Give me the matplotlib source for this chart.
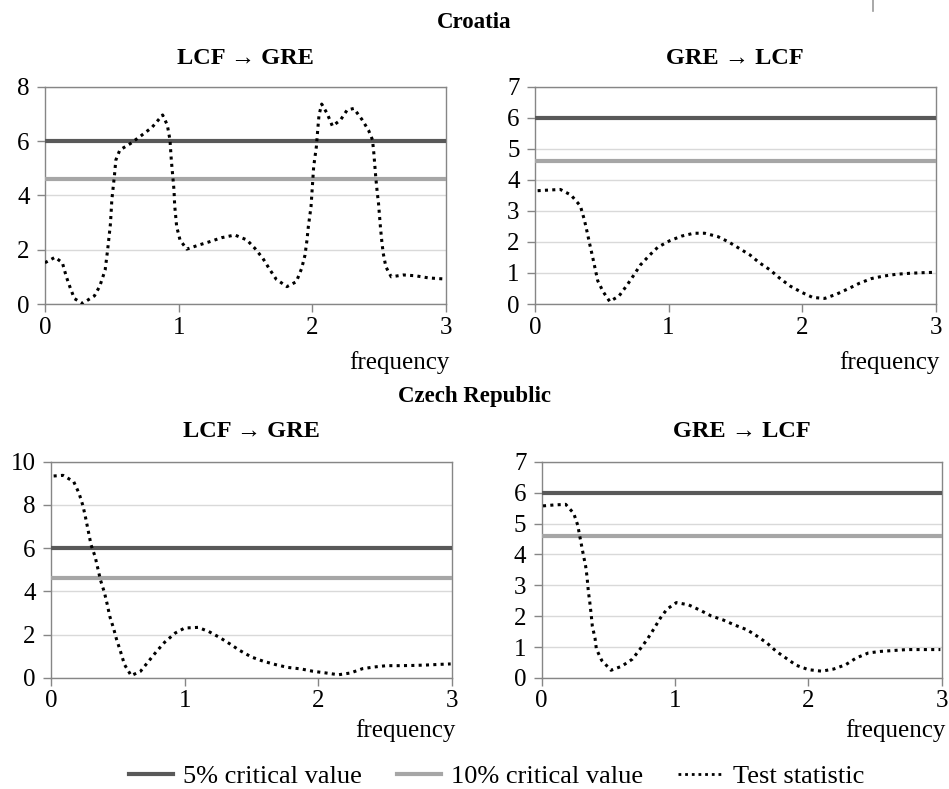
import matplotlib
matplotlib.use("Agg")
import matplotlib.pyplot as plt
from matplotlib.lines import Line2D

plt.rcParams['font.family'] = ['Liberation Serif', 'DejaVu Serif']

# Critical values of the test (chi-square, 2 df)
crit_5 = 5.99
crit_10 = 4.61

# Croatia, LCF -> GRE
hr_lcf_gre_f = [0.0, 0.075, 0.13, 0.16, 0.19, 0.22, 0.28, 0.37, 0.41, 0.45, 0.47, 0.49, 0.5, 0.52, 0.53,
                0.56, 0.64, 0.72, 0.8, 0.88, 0.915, 0.935, 0.945, 0.955, 0.965, 0.97, 0.985, 1.01, 1.06,
                1.15, 1.23, 1.32, 1.42, 1.51, 1.57, 1.63, 1.68, 1.73, 1.81, 1.88, 1.92, 1.945, 1.96, 1.97,
                1.99, 2.0, 2.01, 2.03, 2.04, 2.05, 2.07, 2.11, 2.15, 2.21, 2.26, 2.31, 2.37, 2.42, 2.45,
                2.46, 2.475, 2.485, 2.495, 2.51, 2.52, 2.53, 2.55, 2.59, 2.68, 2.77, 2.87, 2.99]
hr_lcf_gre_v = [1.52, 1.72, 1.52, 1.0, 0.58, 0.2, 0.02, 0.3, 0.66, 1.25, 2.05, 2.97, 3.83, 4.75, 5.3,
                5.67, 5.91, 6.2, 6.5, 6.96, 6.59, 6.04, 5.3, 4.75, 4.2, 3.64, 2.85, 2.36, 2.02,
                2.17, 2.29, 2.44, 2.54, 2.36, 2.05, 1.68, 1.28, 0.91, 0.64, 0.82, 1.31, 1.8, 2.36, 2.85,
                3.58, 4.32, 5.06, 5.79, 6.4, 6.96, 7.36, 7.02, 6.55, 6.77, 7.14, 7.2, 6.8, 6.4, 6.04,
                5.55, 4.63, 4.13, 3.7, 2.79, 2.29, 1.87, 1.37, 1.0, 1.07, 1.04, 0.96, 0.92]

# Croatia, GRE -> LCF
hr_gre_lcf_f = [0.02, 0.1, 0.19, 0.27, 0.34, 0.37, 0.39, 0.41, 0.43, 0.45, 0.47, 0.51, 0.56, 0.63, 0.69,
                0.74, 0.79, 0.86, 0.92, 1.01, 1.1, 1.19, 1.27, 1.37, 1.45, 1.53, 1.61, 1.68, 1.76, 1.83,
                1.91, 2.0, 2.08, 2.17, 2.26, 2.35, 2.43, 2.52, 2.61, 2.71, 2.81, 2.91, 2.99]
hr_gre_lcf_v = [3.65, 3.67, 3.69, 3.51, 3.16, 2.71, 2.33, 1.93, 1.55, 1.15, 0.75, 0.4, 0.08, 0.26, 0.61,
                0.93, 1.26, 1.58, 1.83, 2.04, 2.19, 2.28, 2.28, 2.17, 2.0, 1.79, 1.58, 1.33, 1.1, 0.84,
                0.58, 0.37, 0.21, 0.18, 0.32, 0.5, 0.67, 0.82, 0.9, 0.96, 0.99, 1.01, 1.02]

# Czech Republic, LCF -> GRE
cz_lcf_gre_f = [0.02, 0.09, 0.17, 0.21, 0.24, 0.26, 0.28, 0.3, 0.33, 0.35, 0.37, 0.4, 0.42, 0.44, 0.47,
                0.49, 0.52, 0.55, 0.6, 0.67, 0.73, 0.79, 0.85, 0.93, 1.0, 1.1, 1.18, 1.26, 1.34, 1.41,
                1.5, 1.59, 1.68, 1.77, 1.87, 1.96, 2.06, 2.15, 2.24, 2.33, 2.42, 2.51, 2.61, 2.71, 2.81,
                2.91, 2.99]
cz_lcf_gre_v = [9.34, 9.37, 9.08, 8.54, 7.95, 7.38, 6.77, 6.15, 5.62, 5.08, 4.54, 3.95, 3.43, 2.85, 2.26,
                1.8, 1.23, 0.62, 0.11, 0.31, 0.77, 1.23, 1.65, 2.08, 2.31, 2.34, 2.15, 1.88, 1.57, 1.28,
                0.97, 0.77, 0.62, 0.49, 0.42, 0.31, 0.23, 0.15, 0.23, 0.43, 0.51, 0.57, 0.57, 0.58, 0.6,
                0.63, 0.65]

# Czech Republic, GRE -> LCF
cz_gre_lcf_f = [0.01, 0.09, 0.18, 0.24, 0.27, 0.29, 0.31, 0.33, 0.34, 0.35, 0.36, 0.37, 0.38, 0.4, 0.41,
                0.45, 0.52, 0.6, 0.68, 0.73, 0.79, 0.84, 0.89, 0.94, 1.01, 1.1, 1.19, 1.27, 1.36, 1.45,
                1.54, 1.61, 1.69, 1.76, 1.83, 1.91, 2.0, 2.1, 2.19, 2.28, 2.36, 2.45, 2.54, 2.64, 2.74,
                2.84, 2.93, 2.99]
cz_gre_lcf_v = [5.57, 5.6, 5.62, 5.33, 4.95, 4.49, 4.04, 3.61, 3.28, 2.8, 2.48, 2.1, 1.67, 1.29, 0.94,
                0.57, 0.25, 0.38, 0.61, 0.89, 1.24, 1.58, 1.94, 2.23, 2.44, 2.37, 2.19, 2.01, 1.88, 1.71,
                1.56, 1.37, 1.13, 0.86, 0.65, 0.41, 0.27, 0.22, 0.29, 0.43, 0.65, 0.81, 0.86, 0.89, 0.92,
                0.92, 0.92, 0.92]

x_ticks = [0, 1, 2, 3]
dark = '#595959'
light = '#a6a6a6'
spine_c = '#868686'
grid_c = '#d9d9d9'
dot_style = (0, (1.0, 1.4))

fig = plt.figure(figsize=(9.49, 7.89), dpi=100)

panels = [
    # axes rect, y max, y step, panel title, title offset, label offset, frequencies, statistic
    ([0.0474, 0.6147, 0.4226, 0.2754], 8, 2, 'LCF → GRE', 0.128, 0.267, hr_lcf_gre_f, hr_lcf_gre_v),
    ([0.5637, 0.6147, 0.4222, 0.2754], 7, 1, 'GRE → LCF', 0.128, 0.267, hr_gre_lcf_f, hr_gre_lcf_v),
    ([0.0537, 0.1407, 0.4226, 0.2741], 10, 2, 'LCF → GRE', 0.142, 0.245, cz_lcf_gre_f, cz_lcf_gre_v),
    ([0.5708, 0.1407, 0.4215, 0.2741], 7, 1, 'GRE → LCF', 0.142, 0.245, cz_gre_lcf_f, cz_gre_lcf_v),
]

for rect, ymax, ystep, title, t_off, f_off, xf, yv in panels:
    ax = fig.add_axes(rect)
    ax.set_xlim(0, 3)
    ax.set_ylim(0, ymax)
    ax.set_xticks(x_ticks)
    ax.set_yticks(list(range(0, ymax + 1, ystep)))
    ax.yaxis.grid(True, color=grid_c, lw=1.0)
    ax.set_axisbelow(True)
    for s in ax.spines.values():
        s.set_color(spine_c)
        s.set_linewidth(1.0)
    ax.tick_params(axis='both', direction='out', length=6, width=1, color=spine_c,
                   labelsize=18)
    ax.tick_params(axis='x', pad=3)
    ax.tick_params(axis='y', pad=5)
    ax.axhline(crit_5, color=dark, lw=3, zorder=3)
    ax.axhline(crit_10, color=light, lw=3, zorder=3)
    ax.plot(xf, yv, color='black', lw=2.2, linestyle=dot_style, zorder=4)
    ax.text(0.5, 1 + t_off, title, transform=ax.transAxes, ha='center', va='center',
            fontsize=17.5, fontweight='bold')
    ax.text(1.01, -f_off, 'frequency', transform=ax.transAxes, ha='right', va='center',
            fontsize=18)

fig.text(0.5, 0.972, 'Croatia', ha='center', va='center', fontsize=16.5, fontweight='bold')
fig.text(0.5, 0.498, 'Czech Republic', ha='center', va='center', fontsize=16.5, fontweight='bold')

# small stroke at the top-right edge of the page
fig.add_artist(Line2D([0.92, 0.92], [1.0, 0.986], color='#9a9a9a', lw=1.2))

handles = [
    Line2D([], [], color=dark, lw=3),
    Line2D([], [], color=light, lw=3),
    Line2D([], [], color='black', lw=2, linestyle=dot_style),
]
fig.legend(handles, ['5% critical value', '10% critical value', 'Test statistic'],
           loc='center', bbox_to_anchor=(0.523, 0.016), ncol=3, frameon=False, fontsize=19,
           handlelength=1.7, columnspacing=1.3, handletextpad=0.38)

fig.savefig('out.png', dpi=100)
